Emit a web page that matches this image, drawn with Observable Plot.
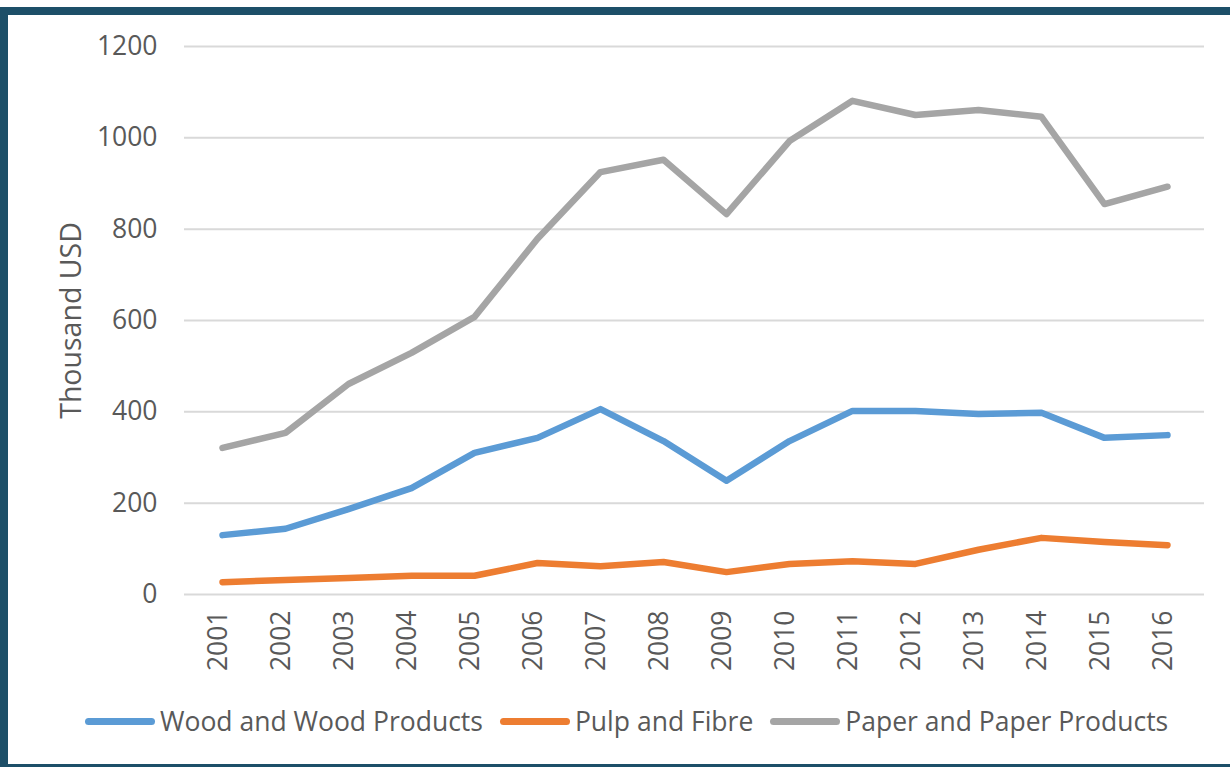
<!DOCTYPE html>
<html>
<head>
<meta charset="utf-8">
<script src="https://cdn.jsdelivr.net/npm/d3@7"></script>
<script src="https://cdn.jsdelivr.net/npm/@observablehq/plot@0.6"></script>
<style>
  html, body { margin: 0; padding: 0; background: #fff; }
  #frame {
    position: absolute; left: 0; top: 7px; width: 1222px; height: 749px;
    border-top: 8px solid #1d4f68; border-left: 8px solid #1d4f68; border-bottom: 3px solid #1d4f68;
    background: #fff; font-family: "Open Sans", "Noto Sans", sans-serif;
  }
  #chart { position: absolute; left: 0; top: 0; }
  #legend {
    position: absolute; left: 77px; top: 688px; display: flex; align-items: center;
    gap: 17px; font-size: 26.5px; color: #595959; white-space: nowrap;
  }
  .item { display: flex; align-items: center; gap: 5px; }
  .swatch { width: 70px; height: 7px; border-radius: 4px; }
</style>
</head>
<body>
<div id="frame">
  <div id="chart"></div>
  <div id="legend"></div>
</div>
<script>
const years = ["2001","2002","2003","2004","2005","2006","2007","2008","2009","2010","2011","2012","2013","2014","2015","2016"];
const wood  = [130, 144, 187, 233, 310, 343, 406, 336, 249, 336, 402, 402, 395, 398, 343, 349];
const pulp  = [27, 32, 36, 41, 41, 69, 62, 71, 49, 67, 73, 67, 98, 124, 115, 108];
const paper = [321, 354, 461, 529, 608, 779, 925, 952, 833, 993, 1081, 1050, 1061, 1046, 855, 893];
const seriesNames = ["Wood and Wood Products", "Pulp and Fibre", "Paper and Paper Products"];
const seriesColors = ["#5b9bd5", "#ed7d31", "#a5a5a5"];
const yTicks = [0, 200, 400, 600, 800, 1000, 1200];

const seriesValues = [wood, pulp, paper];
const rows = [];
seriesNames.forEach((name, i) => {
  years.forEach((yr, j) => rows.push({series: name, year: yr, value: seriesValues[i][j]}));
});

const chart = Plot.plot({
  width: 1222,
  height: 680,
  marginLeft: 176,
  marginRight: 26,
  marginTop: 31,
  marginBottom: 101,
  style: {fontFamily: "'Open Sans', 'Noto Sans', sans-serif", fontSize: "26.5px", color: "#595959", background: "transparent"},
  x: {type: "point", domain: years, padding: 0.5},
  y: {domain: [0, 1200]},
  color: {domain: seriesNames, range: seriesColors},
  marks: [
    Plot.gridY(yTicks, {stroke: "#d9d9d9", strokeOpacity: 1, strokeWidth: 2}),
    Plot.axisY({ticks: yTicks, tickFormat: d => String(d), tickSize: 0, tickPadding: 27, label: null, fill: "#595959", fontSize: 26.5}),
    Plot.axisY({ticks: [], tickSize: 0, label: "Thousand USD", labelAnchor: "center", labelArrow: "none", labelOffset: 124, fill: "#595959", fontSize: 28.5}),
    Plot.axisX({tickSize: 0, tickPadding: 16, tickRotate: -90, dx: -4, label: null, fill: "#595959", fontSize: 26.5}),
    Plot.lineY(rows, {x: "year", y: "value", z: "series", stroke: "series", strokeWidth: 6.5, strokeLinejoin: "round", strokeLinecap: "round"})
  ]
});
document.getElementById("chart").appendChild(chart);

const legend = document.getElementById("legend");
seriesNames.forEach((name, i) => {
  const item = document.createElement("div");
  item.className = "item";
  const sw = document.createElement("div");
  sw.className = "swatch";
  sw.style.background = seriesColors[i];
  const label = document.createElement("span");
  label.textContent = name;
  item.appendChild(sw); item.appendChild(label);
  legend.appendChild(item);
});
</script>
</body>
</html>
